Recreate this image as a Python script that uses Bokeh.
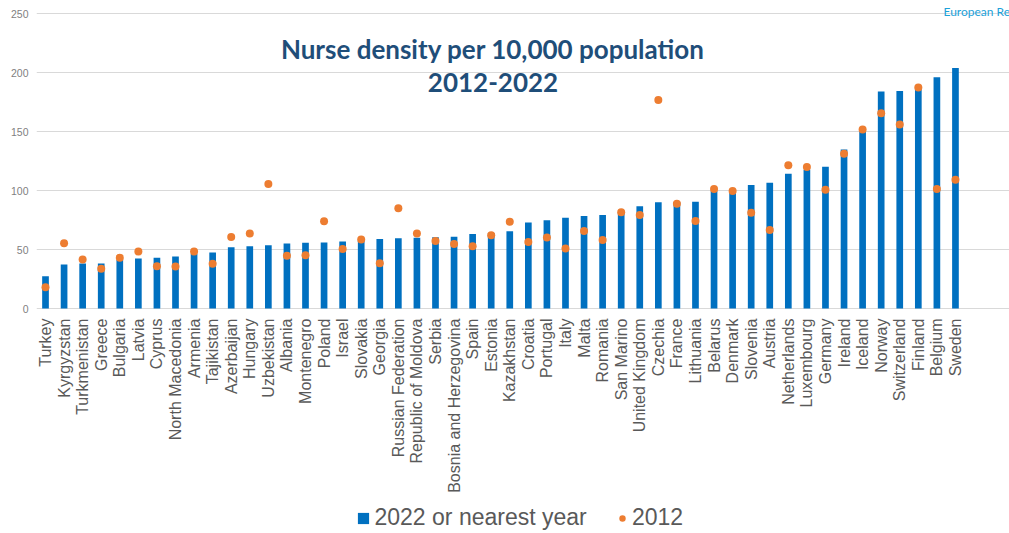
import math
from bokeh.plotting import figure
from bokeh.models import Range1d, FixedTicker, Label, Legend, LegendItem, ColumnDataSource
from bokeh.embed import file_html
from bokeh.resources import INLINE

countries = ["Turkey", "Kyrgyzstan", "Turkmenistan", "Greece", "Bulgaria", "Latvia", "Cyprus",
             "North Macedonia", "Armenia", "Tajikistan", "Azerbaijan", "Hungary", "Uzbekistan",
             "Albania", "Montenegro", "Poland", "Israel", "Slovakia", "Georgia", "Russian Federation",
             "Republic of Moldova", "Serbia", "Bosnia and Herzegovina", "Spain", "Estonia",
             "Kazakhstan", "Croatia", "Portugal", "Italy", "Malta", "Romania", "San Marino",
             "United Kingdom", "Czechia", "France", "Lithuania", "Belarus", "Denmark", "Slovenia",
             "Austria", "Netherlands", "Luxembourg", "Germany", "Ireland", "Iceland", "Norway",
             "Switzerland", "Finland", "Belgium", "Sweden"]

nurses_2022 = [27.4, 37.2, 38.1, 38.2, 41.0, 42.3, 43.1, 44.0, 46.5, 47.4, 51.9, 52.7, 53.6,
               55.0, 55.8, 55.9, 56.7, 57.5, 58.9, 59.5, 60.0, 60.3, 60.9, 63.2, 64.0,
               65.4, 72.8, 74.7, 77.0, 78.4, 79.2, 81.0, 86.6, 90.0, 90.2, 90.5, 99.5, 100.5, 104.6,
               106.6, 114.2, 117.5, 120.1, 134.8, 150.0, 183.9, 184.4, 187.0, 196.0, 203.9]

nurses_2012 = [18.0, 55.3, 41.5, 33.6, 43.1, 48.2, 35.8, 35.5, 48.2, 38.0, 60.6, 63.5, 105.5,
               44.6, 45.1, 73.9, 50.5, 58.4, 38.4, 84.9, 63.5, 57.2, 54.7, 52.7, 62.0,
               73.6, 56.4, 60.1, 50.8, 65.7, 58.1, 81.5, 79.2, 176.8, 88.8, 74.2, 101.2, 99.5, 81.2,
               66.6, 121.3, 119.9, 100.7, 131.1, 151.7, 165.5, 155.9, 187.3, 101.2, 109.1]

y_ticks = [0, 50, 100, 150, 200, 250]

idx = list(range(len(countries)))
src = ColumnDataSource(dict(x=idx, country=countries, v2022=nurses_2022, v2012=nurses_2012))

# frame spans the whole figure height so that the legend below the axis and the
# corner text are not clipped; the x axis is pinned at y = 0
p = figure(width=1009, height=533, output_backend="svg", toolbar_location=None,
           x_range=Range1d(-0.485, 51.91), y_range=Range1d(-190.68, 261.02),
           min_border_left=36, min_border_right=0, min_border_top=0, min_border_bottom=0)
p.outline_line_color = None
p.background_fill_color = "white"
p.border_fill_color = "white"

bars = p.vbar(x="x", top="v2022", width=0.36, source=src, fill_color="#0070C0", line_color=None)
dots = p.scatter(x="x", y="v2012", size=8, source=src, fill_color="#ED7D31", line_color=None)

# axes
p.xaxis.fixed_location = 0
p.xaxis.ticker = FixedTicker(ticks=idx)
p.xaxis.major_label_overrides = {i: c for i, c in enumerate(countries)}
p.xaxis.major_label_orientation = math.pi / 2
p.xaxis.axis_line_color = None
p.xaxis.major_tick_line_color = None
p.xaxis.minor_tick_line_color = None
p.xaxis.major_tick_out = 0
p.xaxis.major_tick_in = 0
p.xaxis.major_label_standoff = 10
p.xaxis.major_label_text_font = "Liberation Sans"
p.xaxis.major_label_text_font_size = "16px"
p.xaxis.major_label_text_color = "#595959"

p.yaxis.ticker = FixedTicker(ticks=y_ticks)
p.yaxis.axis_line_color = None
p.yaxis.major_tick_line_color = None
p.yaxis.minor_tick_line_color = None
p.yaxis.major_tick_out = 0
p.yaxis.major_tick_in = 0
p.yaxis.major_label_standoff = 8
p.yaxis.major_label_text_font = "Liberation Sans"
p.yaxis.major_label_text_font_size = "10.5px"
p.yaxis.major_label_text_color = "#7F7F7F"

p.xgrid.visible = False
p.ygrid.ticker = FixedTicker(ticks=y_ticks)
p.ygrid.grid_line_color = "#D9D9D9"
p.ygrid.grid_line_width = 1

# title
p.add_layout(Label(x=456.5, y=484.7, x_units="screen", y_units="screen",
                   text="Nurse density per 10,000 population", text_align="center",
                   text_baseline="alphabetic", text_font="Lato", text_font_style="bold",
                   text_font_size="26px", text_color="#1F4E79"))
p.add_layout(Label(x=456.5, y=451.3, x_units="screen", y_units="screen",
                   text="2012-2022", text_align="center",
                   text_baseline="alphabetic", text_font="Lato", text_font_style="bold",
                   text_font_size="26px", text_color="#1F4E79"))
p.add_layout(Label(x=907, y=522.3, x_units="screen", y_units="screen",
                   text="European Re", text_align="left", text_baseline="alphabetic",
                   text_font="Lato", text_font_size="12px", text_color="#1BA1D9"))

# legends
common = dict(orientation="horizontal", padding=0, margin=0, border_line_color=None,
              background_fill_alpha=0, label_text_font="Liberation Sans",
              label_text_font_size="23px", label_text_color="#595959")
leg1 = Legend(items=[LegendItem(label="2022 or nearest year", renderers=[bars])],
              location=(319.5, 2), glyph_width=14, glyph_height=14, label_standoff=5, **common)
leg2 = Legend(items=[LegendItem(label="2012", renderers=[dots])],
              location=(578, 2), glyph_width=16, glyph_height=16, label_standoff=2, **common)
p.add_layout(leg1)
p.add_layout(leg2)

open("out.html", "w").write(file_html(p, INLINE))
